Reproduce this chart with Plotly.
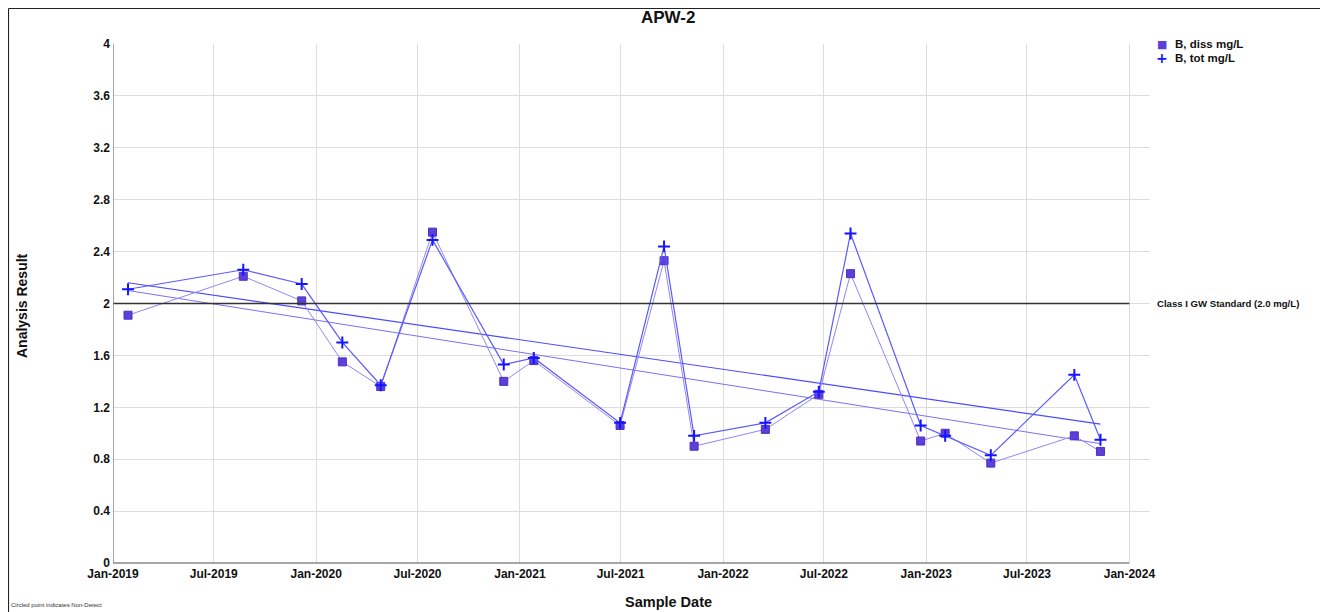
import plotly.graph_objects as go

title = "APW-2"
dates = ["2019-01-28", "2019-08-23", "2019-12-06", "2020-02-17", "2020-04-26",
         "2020-07-28", "2020-12-03", "2021-01-26", "2021-06-30", "2021-09-17",
         "2021-11-10", "2022-03-18", "2022-06-22", "2022-08-18", "2022-12-22",
         "2023-02-04", "2023-04-27", "2023-09-24", "2023-11-10"]
b_diss = [1.91, 2.21, 2.02, 1.55, 1.36, 2.55, 1.40, 1.56, 1.06, 2.33,
          0.90, 1.03, 1.30, 2.23, 0.94, 1.00, 0.77, 0.98, 0.86]
b_tot = [2.11, 2.26, 2.15, 1.70, 1.37, 2.49, 1.53, 1.58, 1.08, 2.44,
         0.98, 1.08, 1.32, 2.54, 1.06, 0.98, 0.83, 1.45, 0.95]
# trend line endpoints (first and last sample dates)
trend_dates = ["2019-01-28", "2023-11-10"]
trend_diss = [2.10, 0.92]
trend_tot = [2.16, 1.07]
standard_value = 2.0
standard_label = "Class I GW Standard (2.0 mg/L)"
series_names = ["B, diss mg/L", "B, tot mg/L"]
x_tickvals = ["2019-01-01", "2019-07-01", "2020-01-01", "2020-07-01", "2021-01-01",
              "2021-07-01", "2022-01-01", "2022-07-01", "2023-01-01", "2023-07-01",
              "2024-01-01"]
x_ticktext = ["Jan-2019", "Jul-2019", "Jan-2020", "Jul-2020", "Jan-2021", "Jul-2021",
              "Jan-2022", "Jul-2022", "Jan-2023", "Jul-2023", "Jan-2024"]
y_tickvals = [0, 0.4, 0.8, 1.2, 1.6, 2, 2.4, 2.8, 3.2, 3.6, 4]

FONT = "Liberation Sans, Arial, sans-serif"
diss_line = "#9088f0"
diss_marker = "#5e40d8"
tot_line = "#5a5aff"
tot_marker = "#1414ff"

fig = go.Figure()

# trend lines
fig.add_trace(go.Scatter(x=trend_dates, y=trend_tot, mode="lines",
                         line=dict(color="#4b4bff", width=1.2),
                         showlegend=False, hoverinfo="skip"))
fig.add_trace(go.Scatter(x=trend_dates, y=trend_diss, mode="lines",
                         line=dict(color="#7d70f0", width=1),
                         showlegend=False, hoverinfo="skip"))

fig.add_trace(go.Scatter(x=dates, y=b_diss, mode="lines+markers", name=series_names[0],
                         line=dict(color=diss_line, width=1),
                         marker=dict(symbol="square", size=8, color=diss_marker,
                                     line=dict(color="#4a30c0", width=1)),
                         showlegend=False))
fig.add_trace(go.Scatter(x=dates, y=b_tot, mode="lines+markers", name=series_names[1],
                         line=dict(color=tot_line, width=1.2),
                         marker=dict(symbol="cross-thin", size=8.5,
                                     line=dict(color=tot_marker, width=2)),
                         showlegend=False))

# standard line
fig.add_shape(type="line", xref="x", yref="y", x0="2019-01-01", x1="2024-01-01",
              y0=standard_value, y1=standard_value,
              line=dict(color="#333333", width=1.5), layer="above")
fig.add_annotation(xref="paper", yref="y", x=1.0048, y=standard_value,
                   text=standard_label, showarrow=False, xanchor="left",
                   font=dict(family=FONT, size=9.6, color="#111", weight="bold"))

# axis lines
fig.add_shape(type="line", xref="x", yref="paper", x0="2019-01-01", x1="2019-01-01",
              y0=0, y1=1, line=dict(color="#888", width=1.5), layer="above")
fig.add_shape(type="line", xref="x", yref="paper", x0="2019-01-01", x1="2024-01-01",
              y0=0, y1=0, line=dict(color="#888", width=1.5), layer="above")

# outer frame
for (x0, y0, x1, y1) in [(-0.1008, -0.0944, -0.1008, 1.0684),
                         (-0.1008, 1.0684, 1.1659, 1.0684),
                         (1.1659, -0.0944, 1.1659, 1.0684)]:
    fig.add_shape(type="line", xref="paper", yref="paper", x0=x0, y0=y0, x1=x1, y1=y1,
                  line=dict(color="#222", width=1.2))

# legend (drawn manually for compact spacing)
legend_y = [1.0, 0.973]
fig.add_annotation(xref="paper", yref="paper", x=1.0116, y=legend_y[0], text="■",
                   showarrow=False, xanchor="center", yanchor="middle",
                   font=dict(family="DejaVu Sans", size=11, color=diss_marker))
fig.add_annotation(xref="paper", yref="paper", x=1.0116, y=legend_y[1], text="+",
                   showarrow=False, xanchor="center", yanchor="middle",
                   font=dict(family="DejaVu Sans", size=14, color=tot_marker, weight="bold"))
for name, yy in zip(series_names, legend_y):
    fig.add_annotation(xref="paper", yref="paper", x=1.0222, y=yy, text=name,
                       showarrow=False, xanchor="left", yanchor="middle",
                       font=dict(family=FONT, size=11.5, color="#111", weight="bold"))

fig.add_annotation(xref="paper", yref="paper", x=0.5352, y=1.052, text=title,
                   showarrow=False, xanchor="center", yanchor="middle",
                   font=dict(family=FONT, size=17, color="#111", weight="bold"))
fig.add_annotation(xref="paper", yref="paper", x=-0.0878, y=0.497, text="Analysis Result",
                   showarrow=False, textangle=-90, xanchor="center", yanchor="middle",
                   font=dict(family=FONT, size=14, color="#111", weight="bold"))
fig.add_annotation(xref="paper", yref="paper", x=0.5352, y=-0.0751, text="Sample Date",
                   showarrow=False, xanchor="center", yanchor="middle",
                   font=dict(family=FONT, size=14.5, color="#111", weight="bold"))
fig.add_annotation(xref="paper", yref="paper", x=-0.1, y=-0.081,
                   text="Circled point indicates Non-Detect",
                   showarrow=False, xanchor="left", yanchor="middle",
                   font=dict(family=FONT, size=6, color="#333"))

fig.update_layout(
    width=1320, height=604, autosize=False,
    margin=dict(l=105, r=178, t=36, b=49),
    paper_bgcolor="white", plot_bgcolor="white",
    font=dict(family=FONT, size=12, color="#111"),
    showlegend=False,
    xaxis=dict(type="date", range=["2019-01-01", "2024-02-07"],
               tickvals=x_tickvals, ticktext=x_ticktext, tickangle=0,
               showgrid=True, gridcolor="#dcdcdc", gridwidth=1,
               zeroline=False, showline=False, ticks="", ticklabelstandoff=2,
               tickfont=dict(family=FONT, size=12, color="#111", weight="bold")),
    yaxis=dict(range=[0, 4], tickvals=y_tickvals,
               showgrid=True, gridcolor="#dcdcdc", gridwidth=1,
               zeroline=False, showline=False, ticks="", ticklabelstandoff=2,
               tickfont=dict(family=FONT, size=12, color="#111", weight="bold")),
)

fig.write_html("out.html")
